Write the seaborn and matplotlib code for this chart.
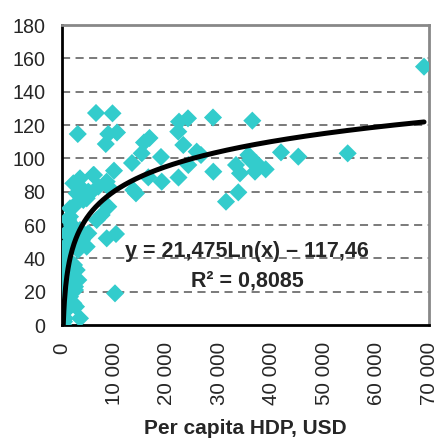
import numpy as np
import pandas as pd
import matplotlib
matplotlib.use("Agg")
import matplotlib.pyplot as plt
import seaborn as sns

# Per capita GDP (USD) and indicator values
gdp = [6485, 9630, 3010, 8830, 10490, 8350, 9920, 6100, 13350, 15200,
       15640, 16690, 18880, 16460, 19020, 13600, 14110, 22180, 22320, 24030,
       23140, 24090, 22220, 25690, 26510, 28800, 28860, 31280, 33190, 33950,
       33630, 35540, 35860, 37130, 36810, 38850, 36300, 41770, 45070, 54490,
       69050, 2160, 3430, 2800, 4060, 5340, 6920, 8530, 9160, 8830,
       2160, 1530, 5970, 5020, 3760, 4710, 7570, 6620, 1200, 8530,
       10300, 5020, 4710, 3430, 1200, 1530, 2800, 1850, 2480, 1530,
       2160, 3430, 10110, 900, 570, 250, 570, 400, 760, 380,
       570, 950, 760, 2480, 3110, 2670, 380, 380, 1530, 1900,
       2480, 3050, 3810, 2290]
value = [127.2, 127, 114.6, 114.6, 115.5, 108.6, 92.6, 90, 97.2, 103,
         109.5, 112.2, 100.8, 88.6, 86, 81, 79, 116, 122, 124,
         108, 96, 88.5, 104, 102, 124.5, 92, 74, 96, 91,
         79.6, 102, 99, 97, 92, 93.4, 122.6, 103.6, 101, 103,
         155, 85, 88, 79, 75, 79, 83, 86, 82, 71,
         71, 65, 90, 80, 82, 76, 66, 63, 63, 52,
         54.6, 55, 47, 57, 49, 38, 33, 27, 23, 17,
         13, 4, 19, 9, 4, 0, 27, 15, 21, 33,
         40, 45, 55, 21, 27, 11, 8, 2, 70, 60,
         51, 45, 51, 36]

# Trend line coefficients shown on the chart
coef_a = 21.475
coef_b = -117.46
eq_label = "y = 21,475Ln(x) – 117,46"
r2_label = "R² = 0,8085"

x_ticks = [0, 10000, 20000, 30000, 40000, 50000, 60000, 70000]
x_ticklabels = ["0", "10 000", "20 000", "30 000", "40 000", "50 000", "60 000", "70 000"]
y_ticks = list(range(0, 181, 20))
x_label = "Per capita HDP, USD"

df = pd.DataFrame({"gdp": gdp, "value": value})
xs = np.linspace(np.exp(-coef_b / coef_a), max(gdp), 600)
trend = pd.DataFrame({"gdp": xs, "value": coef_a * np.log(xs) + coef_b})

sns.set_style("white")
plt.rcParams["font.family"] = ["Liberation Sans", "DejaVu Sans"]

fig = plt.figure(figsize=(4.36, 4.40), dpi=100)
ax = fig.add_axes([62 / 436, 115 / 440, 367 / 436, 300 / 440])

for yv in y_ticks[1:-1]:
    ax.axhline(yv, color="#707070", lw=1.3, ls=(0, (4.5, 3)), zorder=1)

sns.scatterplot(data=df, x="gdp", y="value", marker="D", color="#33CCCC",
                s=85, edgecolor="none", linewidth=0, ax=ax, zorder=3, legend=False)
sns.lineplot(data=trend, x="gdp", y="value", color="black", lw=3.6, ax=ax,
             zorder=4, legend=False)

ax.set_xlim(0, 70000)
ax.set_ylim(0, 180)
ax.set_xticks(x_ticks)
ax.set_xticklabels(x_ticklabels, rotation=90, fontsize=14.8)
ax.set_yticks(y_ticks)
ax.set_yticklabels([str(v) for v in y_ticks], fontsize=14.2)
ax.tick_params(axis="both", direction="out", length=5.8, width=1.5, color="black")
ax.tick_params(axis="x", pad=6.5)
ax.tick_params(axis="y", pad=6)
ax.set_xlabel(x_label, fontsize=15, fontweight="bold", labelpad=10)
ax.set_ylabel("")

for s in ["left", "bottom"]:
    ax.spines[s].set_color("black")
    ax.spines[s].set_linewidth(2)
for s in ["top", "right"]:
    ax.spines[s].set_color("#888888")
    ax.spines[s].set_linewidth(2)
    ax.spines[s].set_visible(True)

ax.text(35290, 40.8, eq_label, fontsize=15.5, fontweight="bold", ha="center",
        va="baseline", zorder=5)
ax.text(35290, 23.0, r2_label, fontsize=15.5, fontweight="bold", ha="center",
        va="baseline", zorder=5)

fig.savefig("out.png", dpi=100)
